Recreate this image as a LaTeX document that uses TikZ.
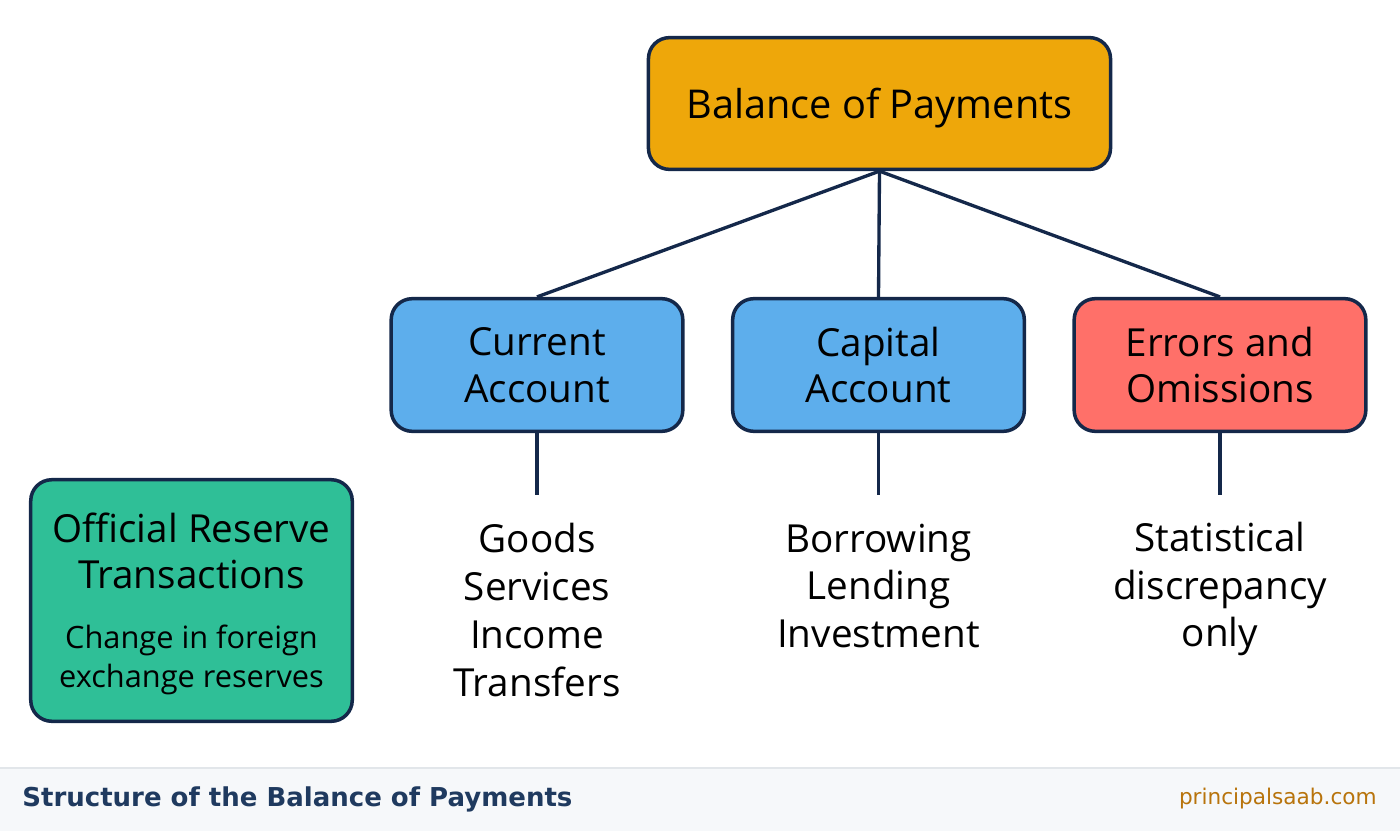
\documentclass[tikz,border=0pt]{standalone}
\usepackage{fontspec}
\setmainfont{Open Sans}
\newfontfamily\footfont{DejaVu Sans}
\usetikzlibrary{positioning}
\usepackage{xcolor}

\definecolor{linenavy}{HTML}{14284A}
\definecolor{bopgold}{HTML}{EEA70A}
\definecolor{acctblue}{HTML}{5DAEEC}
\definecolor{errred}{HTML}{FF7069}
\definecolor{resgreen}{HTML}{2FBF97}
\definecolor{footbg}{HTML}{F6F8FA}
\definecolor{footrule}{HTML}{E2E6EA}
\definecolor{titlenavy}{HTML}{1F3A5F}
\definecolor{urlbrown}{HTML}{B8740C}

\begin{document}
\begin{tikzpicture}[x=0.02cm, y=-0.02cm,
    box/.style={draw=linenavy, line width=2pt, rounded corners=12pt,
        align=center, inner sep=0pt, font=\fontsize{22}{26.6}\selectfont,
        minimum width=166pt, minimum height=75.5pt},
    items/.style={align=center, inner sep=0pt, font=\fontsize{22}{27.2}\selectfont},
    link/.style={draw=linenavy, line width=1.9pt}]
    % Canvas
    \useasboundingbox (0,0) rectangle (1400,831);
    \fill[white] (0,0) rectangle (1400,831);

    % Top box
    \node[box, fill=bopgold, minimum width=263pt, minimum height=75pt, text depth=0pt,
        font=\fontsize{22.6}{27}\selectfont] (bop) at (879.5,103.5) {Balance of Payments};

    % Accounts
    \node[box, fill=acctblue] (ca) at (537,365) {Current\\Account};
    \node[box, fill=acctblue] (ka) at (878.5,365) {Capital\\Account};
    \node[box, fill=errred] (eo) at (1220,365) {Errors and\\Omissions};

    % Reserve box
    \node[box, fill=resgreen, minimum width=183pt, minimum height=137.5pt] (orb) at (191.5,600.5) {};
    \node[items, font=\fontsize{22}{26.6}\selectfont] (orb-title) at (191.5,551) {Official Reserve\\Transactions};
    \node[items, font=\fontsize{17.5}{22}\selectfont] (orb-note) at (191.5,660) {Change in foreign\\exchange reserves};

    % Components
    \node[items] (ca-items) at (537,610) {Goods\\Services\\Income\\Transfers};
    \node[items] (ka-items) at (878.5,586) {Borrowing\\Lending\\Investment};
    \node[items] (eo-items) at (1220,589) {Statistical\\discrepancy\\only};

    % Connectors
    \foreach \acc in {ca,ka,eo} {
        \draw[link] (bop.south) -- (\acc.north);
        \coordinate (\acc-end) at ([yshift=-35pt]\acc.south);
        \draw[link] (\acc.south) -- (\acc-end);
    }

    % Footer
    \fill[footbg] (0,768) rectangle (1400,831);
    \draw[footrule, line width=0.6pt] (0,768) -- (1400,768);
    \node[anchor=west, inner sep=0pt, text=titlenavy,
        font=\footfont\bfseries\fontsize{14.8}{17}\selectfont] (caption) at (22,799)
        {Structure of the Balance of Payments};
    \node[anchor=east, inner sep=0pt, text=urlbrown,
        font=\footfont\fontsize{12.3}{15}\selectfont] (site) at (1377,799)
        {principalsaab.com};
\end{tikzpicture}
\end{document}
